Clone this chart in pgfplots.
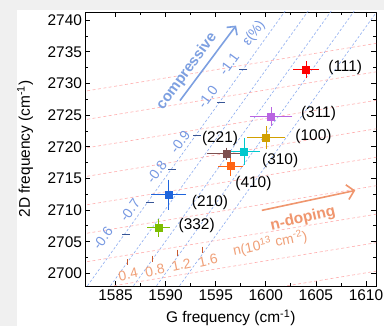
\documentclass[border=0pt]{standalone}
\usepackage{pgfplots}
\pgfplotsset{compat=1.18}
\usepackage{fontspec}
\setmainfont{Liberation Sans}
\usetikzlibrary{arrows.meta}
\definecolor{bg}{RGB}{240,240,240}
\definecolor{bline}{RGB}{140,172,240}
\definecolor{pline}{RGB}{255,175,175}
\definecolor{slab}{RGB}{118,152,226}
\definecolor{stick}{RGB}{55,85,150}
\definecolor{dlab}{RGB}{240,160,120}
\definecolor{dtick}{RGB}{200,90,45}
\definecolor{comp}{RGB}{125,160,225}
\definecolor{ndop}{RGB}{240,150,110}
\definecolor{c111}{RGB}{255,0,0}
\definecolor{c311}{RGB}{185,100,225}
\definecolor{c100}{RGB}{210,160,0}
\definecolor{c221}{RGB}{125,80,80}
\definecolor{c310}{RGB}{0,200,205}
\definecolor{c410}{RGB}{255,100,20}
\definecolor{c210}{RGB}{30,100,220}
\definecolor{c332}{RGB}{125,190,0}
\begin{document}
\begin{tikzpicture}
\useasboundingbox (0,0) rectangle (384bp,326bp);
\fill[bg] (0,0) rectangle (384bp,326bp);
\fill[white] (17bp,0) rectangle (384bp,316bp);
\begin{axis}[
  at={(85.5bp,40bp)}, anchor=south west,
  scale only axis, width=290.5bp, height=274bp,
  xmin=1582, xmax=1611, ymin=2698, ymax=2741.3,
  xtick={1585,1590,...,1610}, ytick={2700,2705,...,2740},
  minor tick num=1,
  tick align=inside, major tick length=5bp, minor tick length=3bp,
  tick style={black, line width=0.8pt},
  axis line style={line width=1pt},
  /pgf/number format/assume math mode=true,
  /pgf/number format/1000 sep={},
  ticklabel style={font=\fontsize{15.5}{18}\selectfont},
  label style={font=\fontsize{15.5}{18}\selectfont},
  xlabel={G frequency (cm\textsuperscript{-1})},
  ylabel={2D frequency (cm\textsuperscript{-1})},
  xlabel style={at={(axis description cs:0.5,-0.117)}, anchor=center},
  ylabel style={at={(axis description cs:-0.208,0.5)}, anchor=center},
  error bars/error bar style={line width=0.9pt},
  error bars/error mark options={line width=0.9pt, mark size=2.5bp},
]
% iso-doping lines (blue, steep)
\addplot[bline, dashed, dash pattern=on 2.5pt off 2pt, line width=0.6pt] coordinates {(1578.54,2690) (1603.54,2745)};
\addplot[bline, dashed, dash pattern=on 2.5pt off 2pt, line width=0.6pt] coordinates {(1580.84,2690) (1605.84,2745)};
\addplot[bline, dashed, dash pattern=on 2.5pt off 2pt, line width=0.6pt] coordinates {(1583.14,2690) (1608.14,2745)};
\addplot[bline, dashed, dash pattern=on 2.5pt off 2pt, line width=0.6pt] coordinates {(1585.44,2690) (1610.44,2745)};
\addplot[bline, dashed, dash pattern=on 2.5pt off 2pt, line width=0.6pt] coordinates {(1587.74,2690) (1612.74,2745)};
% iso-strain lines (pink, shallow)
\addplot[pline, dashed, dash pattern=on 3pt off 2.5pt, line width=0.6pt] coordinates {(1580,2692.28) (1613,2700.86)};
\addplot[pline, dashed, dash pattern=on 3pt off 2.5pt, line width=0.6pt] coordinates {(1580,2696.78) (1613,2705.36)};
\addplot[pline, dashed, dash pattern=on 3pt off 2.5pt, line width=0.6pt] coordinates {(1580,2701.28) (1613,2709.86)};
\addplot[pline, dashed, dash pattern=on 3pt off 2.5pt, line width=0.6pt] coordinates {(1580,2705.78) (1613,2714.36)};
\addplot[pline, dashed, dash pattern=on 3pt off 2.5pt, line width=0.6pt] coordinates {(1580,2710.28) (1613,2718.86)};
\addplot[pline, dashed, dash pattern=on 3pt off 2.5pt, line width=0.6pt] coordinates {(1580,2714.78) (1613,2723.36)};
\addplot[pline, dashed, dash pattern=on 3pt off 2.5pt, line width=0.6pt] coordinates {(1580,2719.28) (1613,2727.86)};
\addplot[pline, dashed, dash pattern=on 3pt off 2.5pt, line width=0.6pt] coordinates {(1580,2723.78) (1613,2732.36)};
\addplot[pline, dashed, dash pattern=on 3pt off 2.5pt, line width=0.6pt] coordinates {(1580,2728.28) (1613,2736.86)};
% strain ticks
\addplot[only marks, mark=-, mark size=4bp, stick, mark options={line width=1pt}] coordinates {
(1586.0,2706.2) (1588.43,2711.26) (1590.63,2716.43) (1593.1,2721.8) (1595.5,2727.0) (1597.76,2732.2)};
% doping ticks
\addplot[only marks, mark=|, mark size=3bp, dtick, mark options={line width=1pt}] coordinates {
(1586.16,2701.79) (1588.66,2702.32) (1591.23,2703.27) (1593.66,2703.74)};
% strain labels
\begin{scope}[every node/.style={font=\fontsize{14}{16}\selectfont, text=slab, rotate=54, inner sep=0pt}]
\node at (axis cs:1583.73,2705.53) {-0.6};
\node at (axis cs:1586.43,2709.95) {-0.7};
\node at (axis cs:1589.1,2716.0) {-0.8};
\node at (axis cs:1591.43,2720.74) {-0.9};
\node at (axis cs:1594.2,2727.85) {-1.0};
\node at (axis cs:1596.33,2733.13) {-1.1};
\node at (axis cs:1598.83,2737.9) {ε(\%)};
\end{scope}
% doping labels
\begin{scope}[every node/.style={font=\fontsize{14}{16}\selectfont, text=dlab, rotate=12, inner sep=0pt}]
\node at (axis cs:1586.26,2699.84) {0.4};
\node at (axis cs:1588.93,2700.47) {0.8};
\node at (axis cs:1591.56,2701.37) {1.2};
\node at (axis cs:1594.23,2702.05) {1.6};
\node at (axis cs:1600.43,2704.7) {n(10\textsuperscript{13} cm\textsuperscript{-2})};
\end{scope}
% arrows
\draw[comp, line width=1.6pt, -{Straight Barb[length=6bp,width=13bp,line width=1.6pt]}] (axis cs:1591.43,2727.3) -- (axis cs:1597.03,2739.15);
\node[font=\bfseries\fontsize{15}{17}\selectfont, text=comp, rotate=54, inner sep=0pt] at (axis cs:1592.13,2731.9) {compressive};
\draw[ndop, line width=1.6pt, -{Straight Barb[length=7bp,width=15bp,line width=1.6pt]}] (axis cs:1599.6,2709.95) -- (axis cs:1608.93,2713.1);
\node[font=\bfseries\fontsize{15.5}{17}\selectfont, text=ndop, rotate=13, inner sep=0pt] at (axis cs:1603.7,2708.6) {n-doping};
% data
\addplot[c111, mark=square*, mark size=3.5bp, only marks, error bars/.cd, x dir=both, x explicit, y dir=both, y explicit] coordinates {(1604.03,2732.23) +- (1.03,0.9)};
\addplot[c311, mark=square*, mark size=3.5bp, only marks, error bars/.cd, x dir=both, x explicit, y dir=both, y explicit] coordinates {(1600.53,2724.8) +- (1.87,1.05)};
\addplot[c100, mark=square*, mark size=3.5bp, only marks, error bars/.cd, x dir=both, x explicit, y dir=both, y explicit] coordinates {(1600.03,2721.48) +- (1.67,1.37)};
\addplot[c221, mark=square*, mark size=3.5bp, only marks, error bars/.cd, x dir=both, x explicit, y dir=both, y explicit] coordinates {(1596.1,2718.88) +- (1.74,0.6)};
\addplot[c310, mark=square*, mark size=3.5bp, only marks, error bars/.cd, x dir=both, x explicit, y dir=both, y explicit] coordinates {(1597.83,2719.27) +- (1.36,1.74)};
\addplot[c410, mark=square*, mark size=3.5bp, only marks, error bars/.cd, x dir=both, x explicit, y dir=both, y explicit] coordinates {(1596.5,2716.95) +- (1.02,1.1)};
\addplot[c210, mark=square*, mark size=3.5bp, only marks, error bars/.cd, x dir=both, x explicit, y dir=both, y explicit] coordinates {(1590.3,2712.43) +- (1.5,2.0)};
\addplot[c332, mark=square*, mark size=3.5bp, only marks, error bars/.cd, x dir=both, x explicit, y dir=both, y explicit] coordinates {(1589.3,2707.22) +- (0.87,1.05)};
% point labels
\begin{scope}[every node/.style={font=\fontsize{15.5}{18}\selectfont, inner sep=0pt}]
\node at (axis cs:1607.93,2732.6) {(111)};
\node at (axis cs:1605.26,2725.2) {(311)};
\node at (axis cs:1604.76,2721.64) {(100)};
\node at (axis cs:1595.43,2721.28) {(221)};
\node at (axis cs:1601.43,2717.85) {(310)};
\node at (axis cs:1598.76,2714.17) {(410)};
\node at (axis cs:1594.43,2711.26) {(210)};
\node at (axis cs:1593.1,2707.58) {(332)};
\end{scope}
\end{axis}
\end{tikzpicture}
\end{document}
